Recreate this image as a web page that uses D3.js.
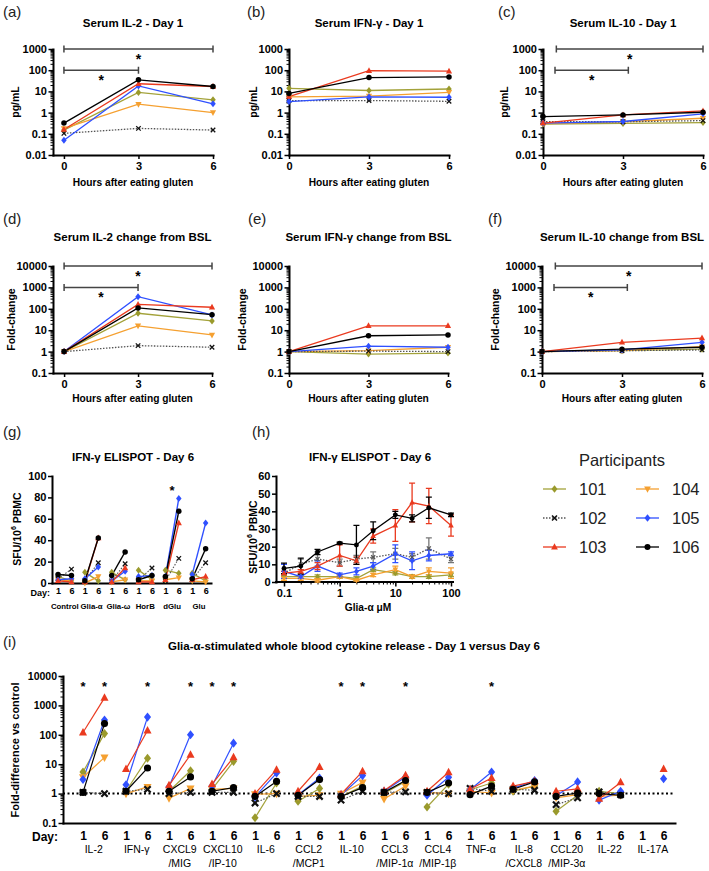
<!DOCTYPE html>
<html><head><meta charset="utf-8">
<script src="https://cdn.jsdelivr.net/npm/d3@7"></script>
<style>body{margin:0;background:#fff}</style>
</head><body>
<svg id="c" width="709" height="871" xmlns="http://www.w3.org/2000/svg"></svg>
<script>
// ---------------- DATA ----------------
const participants = ["101","102","103","104","105","106"];
const hours = [0,3,6];

// (a) Serum IL-2 pg/mL, Day 1
const il2Day1 = [[0.15,8.9,4],[0.105,0.18,0.15],[0.16,23,17],[0.18,2.5,1.0],[0.05,18,2.6],[0.32,35,17]];
// (b) Serum IFN-g pg/mL
const ifnDay1 = [[14,11,13],[3.7,3.7,3.4],[5.7,95,90],[5.5,6,9],[3.3,5.5,5.3],[8,45,48]];
// (c) Serum IL-10 pg/mL
const il10Day1 = [[0.29,0.31,0.34],[0.37,0.37,0.42],[0.32,0.78,1.2],[0.3,0.37,0.54],[0.32,0.38,0.88],[0.65,0.78,1.04]];
// (d) IL-2 fold change
const il2Fold = [[1,62,27],[1,1.9,1.6],[1,160,118],[1,16,6],[1,370,52],[1,110,53]];
// (e) IFN-g fold change
const ifnFold = [[1,0.77,0.85],[1,1.05,1.0],[1,16,16],[1,1.1,1.6],[1,1.8,1.6],[1,5.5,6]];
// (f) IL-10 fold change
const il10Fold = [[1,1.1,1.3],[1,1.1,1.2],[1,2.7,4.3],[1,1.1,1.7],[1,1.2,2.7],[1,1.3,1.6]];

const logTicksAC = [0.01,0.1,1,10,100,1000];
const logTicksDF = [0.1,1,10,100,1000,10000];

// significance brackets [from hour, to hour, at value]
const sigA = [[0,6,1000],[0,3,100]];
const sigC = [[0.5,6,1000],[0.45,3.2,100]];
const sigD = [[0,6,10000],[0,3,1000]];
const sigF = [[0.5,6,10000],[0.45,3.2,1000]];

// (g) ELISPOT day 1 / day 6 per antigen
const elispotGroups = ["Control","Glia-\u03b1","Glia-\u03c9","HorB","dGlu","Glu"];
const elispotDays = ["1","6"];
const elispot = [
  [6,2,10,2,10,3,12,3,12,9,9,2],
  [4,13,2,19,2,18,3,14,2,23,3,19],
  [2,1,1,42,1,14,1,1,3,56,3,6],
  [3,2,0,6,1,3,2,2,3,5,2,1],
  [3,4,4,15,2,11,6,7,6,79,8,56],
  [8,7,2,42,7,29,3,7,6,67,4,32]
];
const elispotTicks = [0,20,40,60,80,100];
const elispotStar = ["dGlu", 90];

// (h) ELISPOT dose response
const gliaConc = [0.1,0.2,0.4,1,2,4,10,20,40,100];
const doseMean = [
  [3,3,3,3,2,7,5,3,3,4],
  [5,10,13,11,13,14,16,14,19,13],
  [5,6,9,15,12,26,32,45,43,32],
  [2,2,1,3,1,4,7,3,6,5],
  [6,3,9,4,6,9,16,12,15,16],
  [7.7,9,17,22,21,29,38,36,42,38]
];
const doseErr = [
  [1,1,1,1,1,1,1,1,1,1],
  [1,3,4,2,2,3,3,2,6,2],
  [1,1,2,6,2,4,9,11,10,6],
  [1,1,1,1,0.5,1,2,1,2,3],
  [4,1,3,1,2,2,5,5,3,1],
  [3,4.5,1.5,0.5,11,5,2,2,6,1]
];
const doseYTicks = [0,10,20,30,40,50,60];
const doseXTicks = [0.1,1,10,100];

// (i) whole blood cytokine release
const cytokines = ["IL-2","IFN-\u03b3","CXCL9\n/MIG","CXCL10\n/IP-10","IL-6","CCL2\n/MCP1","IL-10","CCL3\n/MIP-1\u03b1","CCL4\n/MIP-1\u03b2","TNF-\u03b1","IL-8\n/CXCL8","CCL20\n/MIP-3\u03b1","IL-22","IL-17A"];
const cytoDays = ["1","6"];
const cytoFold = [
  [5.4,110, 1.2,16, 1.2,6, 1.4,12.5, 0.15,2.3, 0.55,1.5, 0.8,1.8, 1,2.6, 0.35,2.1, 1.35,2.3, 1.2,1.8, 0.25,0.88, 1.2,1.0, null,null],
  [1.1,1.0, 1.2,1.4, 1.0,1.1, 1.1,1.1, 0.48,1.0, 0.8,0.8, 0.6,1.2, 1.1,1.15, 1.1,1.0, 1.5,1.2, 1.4,1.3, 0.42,0.72, 1.15,0.92, null,null],
  [120,1800, 6.8,140, 1.9,21, 2.1,17, 1.0,6.5, 1.2,8, 0.95,5.7, 1.25,4.2, 1.2,5.3, 1.4,3.4, 1.8,2.6, 1.2,1.45, 0.66,2.4, null,6.8],
  [3.6,17, 1.0,1.7, 0.7,1.5, 1.4,1.5, 0.95,1.0, 0.8,0.88, 1.0,2.4, 0.66,1.8, 1.1,1.0, 1.2,1.05, 1.3,1.8, 0.72,0.92, 0.8,0.88, null,null],
  [3,320, 2,400, 1.7,100, 1.8,52, 0.77,5, 0.9,3.4, 0.9,4.1, 1.2,3.7, 0.88,3.6, 1.35,5.4, 1.5,2.8, 0.85,2.5, 0.6,1.2, null,3.2],
  [1.1,240, 1.2,7.4, 1.2,3.7, 1.2,1.6, 0.8,2.6, 0.88,3.0, 0.8,1.6, 1.1,2.8, 1.1,2.3, 0.92,1.8, 1.4,2.5, 0.8,1.05, 1.0,0.88, null,null]
];
const cytoStars = [0,1,3,5,6,7,12,13,15,19];
const cytoTicks = [0.1,1,10,100,1000,10000];

// ---------------- STYLE ----------------
const F = '"Liberation Sans", Arial, Helvetica, sans-serif';
const shapes = ["diamond","x","tri","tridown","diamond","circle"];
const mColors = ["#9a9a2c","#111111","#ea3a1f","#f5a030","#2f50ff","#000000"];
const lColors = ["#a3a23a","#555555","#ea3a1f","#f5a030","#2f50ff","#000000"];
const lDash = [null,"1.5,1.5",null,null,null,null];
const drawOrder = [0,3,1,4,2,5];

const svg = d3.select("#c");

function marker(g, shape, cx, cy, s, color, xw) {
  if (shape === "circle") {
    g.append("circle").attr("cx",cx).attr("cy",cy).attr("r",s*0.55).attr("fill",color);
  } else if (shape === "diamond") {
    g.append("path").attr("d",`M${cx},${cy-s*0.7}L${cx+s*0.55},${cy}L${cx},${cy+s*0.7}L${cx-s*0.55},${cy}Z`).attr("fill",color);
  } else if (shape === "tri") {
    g.append("path").attr("d",`M${cx},${cy-s*0.7}L${cx+s*0.62},${cy+s*0.45}L${cx-s*0.62},${cy+s*0.45}Z`).attr("fill",color);
  } else if (shape === "tridown") {
    g.append("path").attr("d",`M${cx},${cy+s*0.7}L${cx+s*0.62},${cy-s*0.45}L${cx-s*0.62},${cy-s*0.45}Z`).attr("fill",color);
  } else if (shape === "x") {
    const r = s*0.45;
    g.append("path").attr("d",`M${cx-r},${cy-r}L${cx+r},${cy+r}M${cx-r},${cy+r}L${cx+r},${cy-r}`)
      .attr("stroke",color).attr("stroke-width",xw||1.4).attr("fill","none");
  }
}

function txt(x,y,s,opt) {
  opt = opt||{};
  return svg.append("text").attr("x",x).attr("y",y).text(s)
    .attr("font-family",F).attr("font-size",opt.size||11)
    .attr("font-weight",opt.bold===false?"normal":"bold")
    .attr("text-anchor",opt.anchor||"middle").attr("fill",opt.fill||"#000");
}
function panelLabel(x,y,s){ txt(x,y,s,{size:15,bold:false,anchor:"start",fill:"#222"}); }
function yTitle(x,yc,s,size){
  return svg.append("text").attr("transform",`translate(${x},${yc}) rotate(-90)`)
    .attr("text-anchor","middle").attr("font-family",F).attr("font-weight","bold")
    .attr("font-size",size||10.5).attr("dominant-baseline","central").text(s);
}
function styleAxis(ax, fs) {
  ax.attr("font-family",F).attr("font-size",fs).attr("font-weight","bold");
  ax.select(".domain").attr("stroke","#000").attr("stroke-width",2).attr("stroke-linecap","square");
  ax.selectAll(".tick line").attr("stroke","#000").attr("stroke-width",1.5);
  ax.selectAll(".tick text").attr("fill","#000");
}
function logAxisY(parent, y, xPos, majors, fs) {
  const minors = [];
  for (let i=0;i<majors.length-1;i++) for (let k=2;k<10;k++) minors.push(majors[i]*k);
  const m = parent.append("g").attr("transform",`translate(${xPos},0)`)
    .call(d3.axisLeft(y).tickValues(minors).tickSize(2.5).tickFormat("").tickSizeOuter(0));
  m.select(".domain").remove();
  m.selectAll("line").attr("stroke","#000").attr("stroke-width",1);
  const a = parent.append("g").attr("transform",`translate(${xPos},0)`)
    .call(d3.axisLeft(y).tickValues(majors).tickSize(4.5).tickPadding(1.5).tickFormat(d=>String(d)).tickSizeOuter(0));
  styleAxis(a, fs);
}

// ---------- panels a-f ----------
function timePanel(c) {
  const g = svg.append("g");
  const x = d3.scaleLinear().domain([c.xMin,6]).range([c.axX,c.xR]);
  const y = d3.scaleLog().domain(c.yDom).range([c.yB,c.yT]);
  const xa = g.append("g").attr("transform",`translate(0,${c.yB})`)
    .call(d3.axisBottom(x).tickValues(hours).tickSize(4).tickPadding(3).tickFormat(d3.format("d")).tickSizeOuter(0));
  styleAxis(xa, 11);
  logAxisY(g, y, c.axX, c.ticks, 11);
  (c.sig||[]).forEach(b=>{
    const x1=x(b[0]), x2=x(b[1]), yy=y(b[2]);
    g.append("path").attr("d",`M${x1},${yy-3.5}V${yy+3.5}M${x1},${yy}H${x2}M${x2},${yy-3.5}V${yy+3.5}`)
      .attr("stroke","#444").attr("stroke-width",1.5).attr("fill","none");
    g.append("text").attr("x",(x1+x2)/2).attr("y",yy+15).attr("text-anchor","middle")
      .attr("font-family",F).attr("font-size",14).attr("font-weight","bold").text("*");
  });
  const line = d3.line().x((d,i)=>x(hours[i])).y(d=>y(d));
  drawOrder.forEach(p=>{
    g.append("path").attr("d",line(c.data[p])).attr("fill","none").attr("stroke",lColors[p])
      .attr("stroke-width",1.3).attr("stroke-dasharray",lDash[p]);
  });
  drawOrder.forEach(p=>{
    c.data[p].forEach((v,i)=>marker(g,shapes[p],x(hours[i]),y(v),5,mColors[p],1.3));
  });
  txt((c.axX+c.xR)/2, c.tY, c.title, {size:11.5});
  txt((c.axX+c.xR)/2, c.xtY, "Hours after eating gluten", {size:10.2});
  yTitle(c.ytX, (c.yB+c.yT)/2, c.ytitle, 10.5);
  panelLabel(c.lX, c.lY, c.label);
}

timePanel({xMin:-0.44,axX:53,xR:213,yDom:[0.01,1000],yB:155,yT:49,ticks:logTicksAC,data:il2Day1,sig:sigA,
  title:"Serum IL-2 - Day 1",tY:27,xtY:186,ytitle:"pg/mL",ytX:15,label:"(a)",lX:3,lY:17});
timePanel({xMin:0,axX:289,xR:449,yDom:[0.01,1000],yB:155,yT:49,ticks:logTicksAC,data:ifnDay1,
  title:"Serum IFN-\u03b3 - Day 1",tY:27,xtY:186,ytitle:"pg/mL",ytX:253,label:"(b)",lX:247,lY:17});
timePanel({xMin:0,axX:543,xR:703,yDom:[0.01,1000],yB:155,yT:49,ticks:logTicksAC,data:il10Day1,sig:sigC,
  title:"Serum IL-10 - Day 1",tY:27,xtY:186,ytitle:"pg/mL",ytX:504,label:"(c)",lX:498,lY:17});
timePanel({xMin:-0.45,axX:53,xR:212,yDom:[0.1,10000],yB:373,yT:266,ticks:logTicksDF,data:il2Fold,sig:sigD,
  title:"Serum IL-2 change from BSL",tY:241,xtY:402,ytitle:"Fold-change",ytX:11,label:"(d)",lX:3,lY:224});
timePanel({xMin:0,axX:289,xR:448,yDom:[0.1,10000],yB:373,yT:266,ticks:logTicksDF,data:ifnFold,
  title:"Serum IFN-\u03b3 change from BSL",tY:241,xtY:402,ytitle:"Fold-change",ytX:242,label:"(e)",lX:248,lY:224});
timePanel({xMin:0,axX:542,xR:702,yDom:[0.1,10000],yB:373,yT:266,ticks:logTicksDF,data:il10Fold,sig:sigF,
  title:"Serum IL-10 change from BSL",tY:241,xtY:402,ytitle:"Fold-change",ytX:495,label:"(f)",lX:488,lY:224});

// ---------- panel g ----------
(function(){
  const g = svg.append("g");
  const x = d3.scaleLinear().domain([-0.45,11.4]).range([52,211]);
  const y = d3.scaleLinear().domain([0,100]).range([583,476]);
  const xa = g.append("g").attr("transform","translate(0,583)")
    .call(d3.axisBottom(x).tickValues(d3.range(12)).tickSize(0).tickPadding(5)
      .tickFormat(i=>elispotDays[i%2]).tickSizeOuter(0));
  styleAxis(xa, 9);
  const ya = g.append("g").attr("transform","translate(52,0)")
    .call(d3.axisLeft(y).tickValues(elispotTicks).tickSize(4).tickPadding(1.5).tickSizeOuter(0));
  styleAxis(ya, 11);
  drawOrder.forEach(p=>{
    for (let k=0;k<6;k++){
      g.append("line").attr("x1",x(2*k)).attr("x2",x(2*k+1))
        .attr("y1",y(elispot[p][2*k])).attr("y2",y(elispot[p][2*k+1]))
        .attr("stroke",lColors[p]).attr("stroke-width",p===1?1.1:1.4).attr("stroke-dasharray",lDash[p]);
    }
  });
  drawOrder.forEach(p=>elispot[p].forEach((v,i)=>marker(g,shapes[p],x(i),y(v),5,mColors[p],1.3)));
  elispotGroups.forEach((n,k)=>txt((x(2*k)+x(2*k+1))/2, 609, n, {size:7.8}));
  txt(50, 596, "Day:", {size:9, anchor:"end"});
  const si = elispotGroups.indexOf(elispotStar[0]);
  txt((x(2*si)+x(2*si+1))/2, y(elispotStar[1])+8, "*", {size:13});
  txt(133, 461, "IFN-\u03b3 ELISPOT - Day 6", {size:11.5});
  const t = svg.append("text").attr("transform","translate(17,529) rotate(-90)").attr("text-anchor","middle")
    .attr("font-family",F).attr("font-weight","bold").attr("font-size",10.5).attr("dominant-baseline","central");
  t.append("tspan").text("SFU/10");
  t.append("tspan").attr("font-size",7).attr("dy",-4).text("6");
  t.append("tspan").attr("dy",4).text(" PBMC");
  panelLabel(3, 437, "(g)");
})();

// ---------- panel h ----------
(function(){
  const g = svg.append("g");
  const x = d3.scaleLog().domain([0.1,100]).range([284,451]);
  const y = d3.scaleLinear().domain([0,60]).range([582,476]);
  const minors=[]; [0.1,1,10].forEach(m=>{for(let k=2;k<10;k++) minors.push(m*k);});
  const xm = g.append("g").attr("transform","translate(0,582)")
    .call(d3.axisBottom(x).tickValues(minors).tickSize(2.5).tickFormat(""));
  xm.select(".domain").remove(); xm.selectAll("line").attr("stroke","#000").attr("stroke-width",1);
  const xa = g.append("g").attr("transform","translate(0,582)")
    .call(d3.axisBottom(x).tickValues(doseXTicks).tickSize(4.5).tickPadding(3).tickFormat(d=>String(d)));
  styleAxis(xa, 11);
  xa.select(".domain").attr("d","M276,0H453");
  const ya = g.append("g").attr("transform","translate(276,0)")
    .call(d3.axisLeft(y).tickValues(doseYTicks).tickSize(4).tickPadding(1.5).tickSizeOuter(0));
  styleAxis(ya, 11);
  const line = d3.line().x((d,i)=>x(gliaConc[i])).y(d=>y(d));
  drawOrder.forEach(p=>{
    const col = p===1 ? "#777" : lColors[p];
    doseMean[p].forEach((m,i)=>{
      const cx=x(gliaConc[i]), e=doseErr[p][i];
      g.append("path").attr("d",`M${cx},${y(m-e)}V${y(m+e)}M${cx-3},${y(m+e)}H${cx+3}M${cx-3},${y(m-e)}H${cx+3}`)
        .attr("stroke",col).attr("stroke-width",1.3).attr("fill","none");
    });
    g.append("path").attr("d",line(doseMean[p])).attr("fill","none").attr("stroke",lColors[p])
      .attr("stroke-width",1.3).attr("stroke-dasharray",lDash[p]);
  });
  drawOrder.forEach(p=>doseMean[p].forEach((v,i)=>marker(g,shapes[p],x(gliaConc[i]),y(v),4.5,p===1?"#555":mColors[p],1.2)));
  txt(370, 461, "IFN-\u03b3 ELISPOT - Day 6", {size:11.5});
  txt(368, 611, "Glia-\u03b1 \u03bcM", {size:10.2});
  const t = svg.append("text").attr("transform","translate(253,537) rotate(-90)").attr("text-anchor","middle")
    .attr("font-family",F).attr("font-weight","bold").attr("font-size",10.5).attr("dominant-baseline","central");
  t.append("tspan").text("SFU/10");
  t.append("tspan").attr("font-size",7).attr("dy",-4).text("6");
  t.append("tspan").attr("dy",4).text(" PBMC");
  panelLabel(252, 437, "(h)");
})();

// ---------- legend ----------
(function(){
  const g = svg.append("g");
  txt(622, 466, "Participants", {size:16.5, bold:false, fill:"#222"});
  participants.forEach((p,i)=>{
    const col = Math.floor(i/3), row = i%3;
    const lx = col===0 ? 543 : 636, cy = 489 + row*29;
    g.append("line").attr("x1",lx).attr("x2",lx+23).attr("y1",cy).attr("y2",cy)
      .attr("stroke",lColors[i]).attr("stroke-width",1.3).attr("stroke-dasharray",lDash[i]);
    marker(g, shapes[i], lx+11.5, cy, 5.5, mColors[i], 1.6);
    txt(lx+36, cy+6, p, {size:16.5, bold:false, anchor:"start", fill:"#222"});
  });
})();

// ---------- panel i ----------
(function(){
  const g = svg.append("g");
  const x = d3.scaleLinear().domain([-0.93,27.53]).range([63,675]);
  const y = d3.scaleLog().domain([0.1,10000]).range([823,676]);
  logAxisY(g, y, 63, cytoTicks, 10.5);
  const xa = g.append("g").attr("transform","translate(0,823)")
    .call(d3.axisBottom(x).tickValues(d3.range(28)).tickSize(0).tickPadding(8)
      .tickFormat(i=>cytoDays[i%2]).tickSizeOuter(0));
  styleAxis(xa, 12);
  g.append("line").attr("x1",63).attr("x2",675).attr("y1",y(1)).attr("y2",y(1))
    .attr("stroke","#000").attr("stroke-width",2).attr("stroke-dasharray","2,2.5");
  drawOrder.forEach(p=>{
    for (let k=0;k<14;k++){
      const a=cytoFold[p][2*k], b=cytoFold[p][2*k+1];
      if (a!=null && b!=null)
        g.append("line").attr("x1",x(2*k)).attr("x2",x(2*k+1)).attr("y1",y(a)).attr("y2",y(b))
          .attr("stroke",lColors[p]).attr("stroke-width",1.2).attr("stroke-dasharray",lDash[p]);
    }
  });
  drawOrder.forEach(p=>cytoFold[p].forEach((v,i)=>{ if(v!=null) marker(g,shapes[p],x(i),y(v),p===1?7:6.5,mColors[p],2.2); }));
  cytoStars.forEach(i=>txt(x(i), 691, "*", {size:13}));
  cytokines.forEach((n,k)=>{
    const parts = n.split("\n");
    parts.forEach((s,j)=>txt((x(2*k)+x(2*k+1))/2, 853+j*14, s, {size:10.5, bold:false}));
  });
  txt(58, 841, "Day:", {size:12, anchor:"end"});
  yTitle(15, 750, "Fold-difference vs control", 11);
  txt(354, 650, "Glia-\u03b1-stimulated whole blood cytokine release - Day 1 versus Day 6", {size:11.5});
  panelLabel(3, 647, "(i)");
})();
</script>
</body></html>
